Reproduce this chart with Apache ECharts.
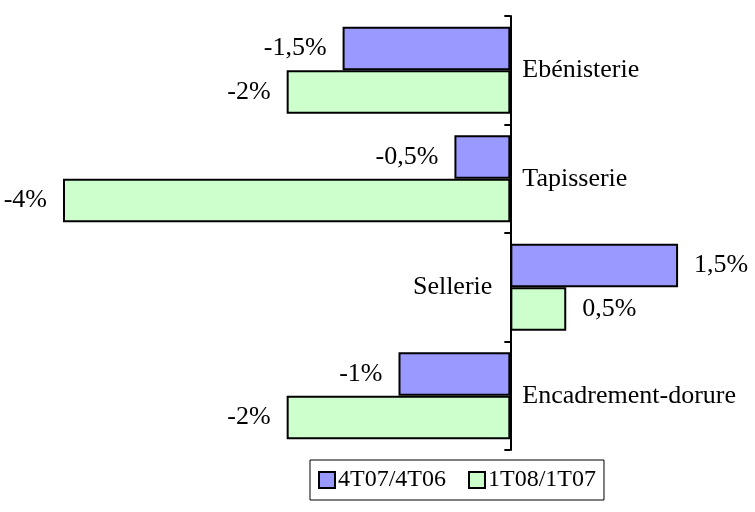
<!DOCTYPE html>
<html>
<head>
<meta charset="utf-8">
<script src="https://cdn.jsdelivr.net/npm/echarts@6/dist/echarts.min.js"></script>
<style>
html, body { margin: 0; padding: 0; background: #fff; }
#chart { width: 755px; height: 512px; }
</style>
</head>
<body>
<div id="chart"></div>
<script>
// données
var categories = ['Ebénisterie', 'Tapisserie', 'Sellerie', 'Encadrement-dorure'];
var seriesNames = ['4T07/4T06', '1T08/1T07'];
var values4T = [-1.5, -0.5, 1.5, -1];
var values1T = [-2, -4, 0.5, -2];

var FONT = '"Liberation Serif", "Times New Roman", serif';

function fmt(v) {
	return String(v).replace('.', ',') + '%';
}
function barData(arr) {
	return arr.map(function (v) {
		return {
			value: v,
			label: { position: v < 0 ? 'left' : 'right' }
		};
	});
}

var myChart = echarts.init(document.getElementById('chart'));
myChart.setOption({
	animation: false,
	textStyle: { fontFamily: FONT },
	grid: { left: 63, right: 21, top: 16, bottom: 62 },
	legend: {
		data: seriesNames,
		icon: 'rect',
		left: 310,
		top: 460,
		itemWidth: 16,
		itemHeight: 16,
		itemGap: 22,
		padding: [8, 8],
		borderColor: '#000',
		borderWidth: 1,
		itemStyle: { borderColor: '#000', borderWidth: 2 },
		textStyle: { fontFamily: FONT, fontSize: 24, color: '#000', padding: [0, 0, 0, -2] }
	},
	xAxis: {
		type: 'value',
		min: -4,
		max: 2,
		show: false
	},
	yAxis: {
		type: 'category',
		data: categories,
		inverse: true,
		axisLine: { show: true, onZero: true, lineStyle: { color: '#000', width: 2 } },
		axisTick: { show: true, inside: false, length: 6, lineStyle: { color: '#000', width: 2 } },
		axisLabel: { show: false },
		splitLine: { show: false }
	},
	series: [
		{
			name: seriesNames[0],
			type: 'bar',
			data: barData(values4T),
			barGap: 0,
			barCategoryGap: '20%',
			itemStyle: { color: '#9999FF', borderColor: '#000', borderWidth: 2 },
			label: {
				show: true,
				distance: 16,
				fontFamily: FONT,
				fontSize: 26,
				color: '#000',
				formatter: function (p) { return fmt(p.value); }
			}
		},
		{
			name: seriesNames[1],
			type: 'bar',
			data: barData(values1T),
			itemStyle: { color: '#CCFFCC', borderColor: '#000', borderWidth: 2 },
			label: {
				show: true,
				distance: 16,
				fontFamily: FONT,
				fontSize: 26,
				color: '#000',
				formatter: function (p) { return fmt(p.value); }
			}
		},
		{
			// noms des catégories le long de l'axe
			type: 'scatter',
			silent: true,
			symbolSize: 0,
			data: categories.map(function (c, i) {
				var left = values4T[i] >= 0;
				return {
					name: c,
					value: [0, c],
					label: { position: left ? 'left' : 'right', distance: left ? 18 : 12 }
				};
			}),
			label: {
				show: true,
				fontFamily: FONT,
				fontSize: 26,
				color: '#000',
				opacity: 1,
				textBorderWidth: 0,
				formatter: '{b}'
			}
		}
	]
});
</script>
</body>
</html>
